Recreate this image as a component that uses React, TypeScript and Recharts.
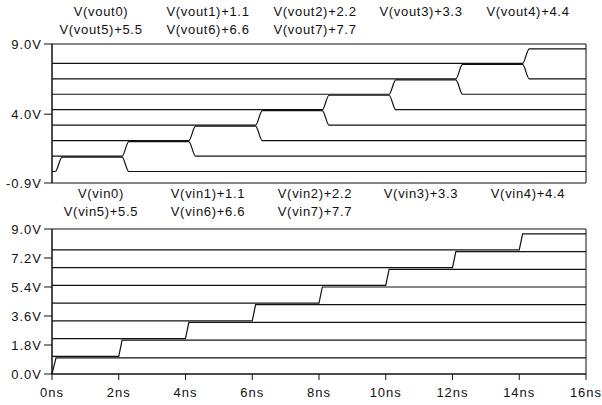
import React from "react";
import {
  LineChart,
  Line,
  XAxis,
  YAxis,
  ReferenceArea,
} from "recharts";

// signal offsets used in the plotted expressions
const offsets = [0, 1.1, 2.2, 3.3, 4.4, 5.5, 6.6, 7.7];

const voutLabels = [
  "V(vout0)",
  "V(vout1)+1.1",
  "V(vout2)+2.2",
  "V(vout3)+3.3",
  "V(vout4)+4.4",
  "V(vout5)+5.5",
  "V(vout6)+6.6",
  "V(vout7)+7.7",
];
const vinLabels = [
  "V(vin0)",
  "V(vin1)+1.1",
  "V(vin2)+2.2",
  "V(vin3)+3.3",
  "V(vin4)+4.4",
  "V(vin5)+5.5",
  "V(vin6)+6.6",
  "V(vin7)+7.7",
];

// vin: thermometer inputs, each one rises once (ns)
const vinRiseStart = [0, 2, 4, 6, 8, 10, 12, 14];
const vinRiseEnd = [0.12, 2.1, 4.1, 6.1, 8.1, 10.1, 12.1, 14.1];
const vinLow = 0;
const vinHigh = 1.0;

// vout: one-hot outputs, high between rise and fall (ns)
const voutRise = [0.1, 2.1, 4.1, 6.1, 8.1, 10.1, 12.1, 14.1];
const voutFall = [2.1, 4.1, 6.1, 8.1, 10.1, 12.1, 14.1, null];
const voutEdge = 0.2;
const voutLow = -0.08;
const voutHigh = 0.95;

const tEnd = 16;
const xTicks = [0, 2, 4, 6, 8, 10, 12, 14, 16];
const topYTicks = [-0.9, 4.0, 9.0];
const bottomYTicks = [0, 1.8, 3.6, 5.4, 7.2, 9.0];

const vinSeries = vinRiseStart.map((t0, k) => [
  { t: 0, v: vinLow + offsets[k] },
  { t: t0, v: vinLow + offsets[k] },
  { t: vinRiseEnd[k], v: vinHigh + offsets[k] },
  { t: tEnd, v: vinHigh + offsets[k] },
]);

const voutSeries = voutRise.map((r, k) => {
  const off = offsets[k];
  const pts = [
    { t: 0, v: voutLow + off },
    { t: r, v: voutLow + off },
    { t: r + voutEdge, v: voutHigh + off },
  ];
  const f = voutFall[k];
  if (f !== null) {
    pts.push({ t: f, v: voutHigh + off });
    pts.push({ t: f + voutEdge, v: voutLow + off });
    pts.push({ t: tEnd, v: voutLow + off });
  } else {
    pts.push({ t: tEnd, v: voutHigh + off });
  }
  return pts;
});

const FONT = "'Liberation Sans', Arial, sans-serif";
const INK = "#111";
const colX = [101, 208, 315, 421, 528];

const tickStyle = { fill: INK, fontSize: 13, fontFamily: FONT, letterSpacing: 1 };

function LegendRows({ labels, rowY }: { labels: string[]; rowY: number[] }) {
  return (
    <>
      {labels.map((lab, i) => (
        <div
          key={lab}
          style={{
            position: "absolute",
            left: colX[i % 5],
            top: rowY[Math.floor(i / 5)] - 8,
            transform: "translateX(-50%)",
            fontFamily: FONT,
            fontSize: 13,
            lineHeight: "16px",
            letterSpacing: 0.7,
            color: INK,
            whiteSpace: "nowrap",
          }}
        >
          {lab}
        </div>
      ))}
    </>
  );
}

export default function App() {
  return (
    <div
      style={{
        position: "absolute",
        left: 0,
        top: 0,
        width: 602,
        height: 405,
        background: "#fff",
      }}
    >
      <LegendRows labels={voutLabels} rowY={[12, 30]} />
      <LegendRows labels={vinLabels} rowY={[194, 212]} />

      <div style={{ position: "absolute", left: 0, top: 0 }}>
        <LineChart
          width={602}
          height={190}
          margin={{ top: 44, right: 16, bottom: 7, left: 0 }}
        >
          <XAxis type="number" dataKey="t" domain={[0, 16]} hide />
          <YAxis
            type="number"
            domain={[-0.9, 9]}
            ticks={topYTicks}
            interval={0}
            allowDataOverflow
            width={52}
            tickSize={8}
            stroke={INK}
            tick={tickStyle}
            tickFormatter={(v: number) => `${v.toFixed(1)}V`}
          />
          <ReferenceArea
            x1={0}
            x2={16}
            y1={-0.9}
            y2={9}
            fill="none"
            stroke={INK}
            strokeWidth={1}
          />
          {voutSeries.map((d, k) => (
            <Line
              key={voutLabels[k]}
              data={d}
              dataKey="v"
              type="monotone"
              stroke={INK}
              strokeWidth={1.2}
              dot={false}
              isAnimationActive={false}
            />
          ))}
        </LineChart>
      </div>

      <div style={{ position: "absolute", left: 0, top: 200 }}>
        <LineChart
          width={602}
          height={205}
          margin={{ top: 29, right: 16, bottom: 1, left: 0 }}
        >
          <XAxis
            type="number"
            dataKey="t"
            domain={[0, 16]}
            ticks={xTicks}
            interval={0}
            height={30}
            tickSize={6}
            tickMargin={8}
            stroke={INK}
            tick={tickStyle}
            tickFormatter={(v: number) => `${v}ns`}
          />
          <YAxis
            type="number"
            domain={[0, 9]}
            ticks={bottomYTicks}
            interval={0}
            allowDataOverflow
            width={52}
            tickSize={8}
            stroke={INK}
            tick={tickStyle}
            tickFormatter={(v: number) => `${v.toFixed(1)}V`}
          />
          <ReferenceArea
            x1={0}
            x2={16}
            y1={0}
            y2={9}
            fill="none"
            stroke={INK}
            strokeWidth={1}
          />
          {vinSeries.map((d, k) => (
            <Line
              key={vinLabels[k]}
              data={d}
              dataKey="v"
              type="linear"
              stroke={INK}
              strokeWidth={1.2}
              dot={false}
              isAnimationActive={false}
            />
          ))}
        </LineChart>
      </div>
    </div>
  );
}
